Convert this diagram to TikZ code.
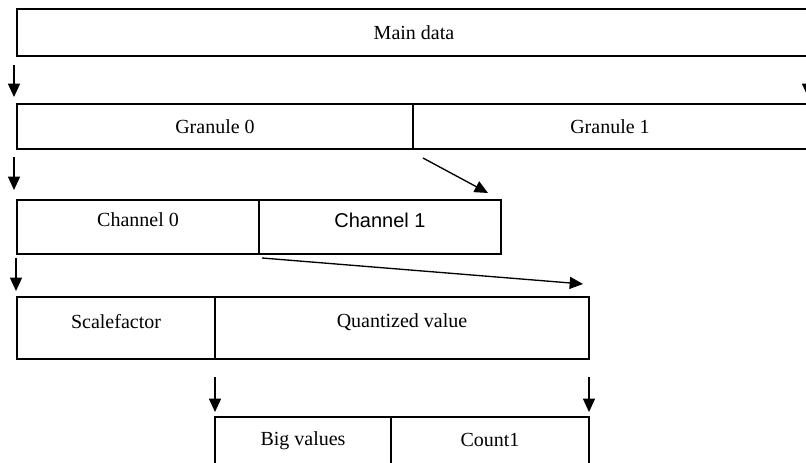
\documentclass[tikz,border=0pt]{standalone}
\usepackage{fontspec}
\setmainfont{Liberation Serif}
\newfontfamily\arialfont{Liberation Sans}
\usetikzlibrary{arrows.meta}
\begin{document}
\begin{tikzpicture}[x=0.75pt,y=-0.75pt,
  cell/.style 2 args={draw, line width=1.2pt, inner sep=0pt, outer sep=0pt,
    anchor=north west, minimum width=#1*0.75pt, minimum height=#2*0.75pt},
  txt/.style={inner sep=0pt, font=\fontsize{15}{18}\selectfont},
  sanstxt/.style={txt, font=\arialfont\fontsize{15}{18}\selectfont},
  arr/.style={-{Triangle[length=10pt,width=9pt]}, line width=1pt}]
\useasboundingbox (0,0) rectangle (806,463);
\clip (0,0) rectangle (806,463);
% boxes
\node[cell={794}{47}] (main) at (17,9) {};
\node[cell={396}{45}] (g0) at (17,104) {};
\node[cell={398}{45}] (g1) at (413,104) {};
\node[cell={242}{54}] (c0) at (17,200) {};
\node[cell={242}{54}] (c1) at (259,200) {};
\node[cell={198}{62}] (sf) at (17,297) {};
\node[cell={374}{62}] (qv) at (215,297) {};
\node[cell={176}{52}] (bv) at (215,417) {};
\node[cell={198}{52}] (cn) at (391,417) {};
% texts
\node[txt] (tmain) at (main.center) {Main data};
\node[txt] (tg0) at (g0.center) {Granule 0};
\node[txt] (tg1) at ([xshift=-1.5pt]g1.center) {Granule 1};
\node[txt] (tc0) at ([yshift=5.25pt]c0.center) {Channel 0};
\node[sanstxt] (tc1) at ([yshift=5.25pt]c1.center) {Channel 1};
\node[txt] (tsf) at ([yshift=4.5pt]sf.center) {Scalefactor};
\node[txt] (tqv) at ([yshift=4.5pt]qv.center) {Quantized value};
\node[txt] (tbv) at ([yshift=2pt]bv.center) {Big values};
\node[txt] (tcn) at ([yshift=2pt]cn.center) {Count1};
% arrow end points
\coordinate (a1s) at (14,65);  \coordinate (a1e) at (14,97);
\coordinate (a2s) at (808,65); \coordinate (a2e) at (808,97);
\coordinate (b1s) at (14,157); \coordinate (b1e) at (14,190);
\coordinate (d1s) at (423,158); \coordinate (d1e) at (488,193);
\coordinate (e1s) at (16,258); \coordinate (e1e) at (16,291);
\coordinate (d2s) at (262,258); \coordinate (d2e) at (583,284);
\coordinate (f1s) at (215,377); \coordinate (f1e) at (215,412);
\coordinate (f2s) at (589,377); \coordinate (f2e) at (589,412);
% arrows
\draw[arr] (a1s) -- (a1e);
\draw[arr] (a2s) -- (a2e);
\draw[arr] (b1s) -- (b1e);
\draw[arr] (d1s) -- (d1e);
\draw[arr] (e1s) -- (e1e);
\draw[arr] (d2s) -- (d2e);
\draw[arr] (f1s) -- (f1e);
\draw[arr] (f2s) -- (f2e);
\end{tikzpicture}
\end{document}
